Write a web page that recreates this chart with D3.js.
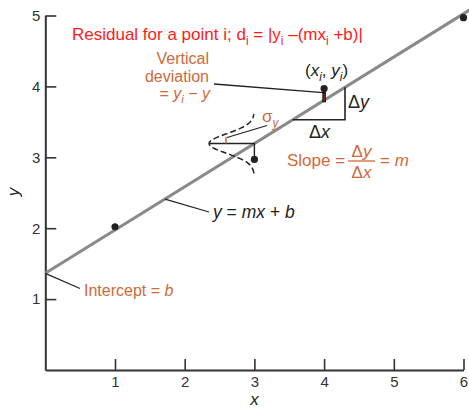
<!DOCTYPE html>
<html>
<head>
<meta charset="utf-8">
<script src="https://cdn.jsdelivr.net/npm/d3@7"></script>
<style>
  html, body { margin: 0; padding: 0; background: #fff; }
  svg { display: block; font-family: "Liberation Sans", Arial, Helvetica, sans-serif; }
</style>
</head>
<body>
<svg id="chart" width="469" height="408"></svg>
<script>
// Observed points (x_i, y_i)
const pointX = [1, 3, 4, 6];
const pointY = [2.02, 2.97, 3.97, 4.97];

// Fitted line y = m x + b
const slopeM = 0.61;
const interceptB = 1.364;

// Axis ticks
const xTicks = [1, 2, 3, 4, 5, 6];
const yTicks = [1, 2, 3, 4, 5];

// Slope triangle (x range along the line) and the sigma_y bell at x = 3
const triX = [3.55, 4.3];
const bellX = 3;
const bellSigma = 0.14;   // in y units
const bellHeight = 0.65;  // in x units

const orange = "#cf6a3a";
const red = "#ff1a1a";
const ink = "#222";

const svg = d3.select("#chart");
const x = d3.scaleLinear().domain([0, 6]).range([45.3, 463.5]);
const y = d3.scaleLinear().domain([0, 5]).range([370, 15.5]);
const fit = v => slopeM * v + interceptB;

// Axes with inward ticks
const xAxis = svg.append("g").attr("transform", `translate(0,${y(0)})`)
  .call(d3.axisBottom(x).tickValues(xTicks).tickFormat(d3.format("d"))
    .tickSizeInner(-11).tickSizeOuter(0).tickPadding(6));
const yAxis = svg.append("g").attr("transform", `translate(${x(0)},0)`)
  .call(d3.axisLeft(y).tickValues(yTicks).tickFormat(d3.format("d"))
    .tickSizeInner(-11).tickSizeOuter(0).tickPadding(5));
[xAxis, yAxis].forEach(g => {
  g.select(".domain").attr("stroke", "#333").attr("stroke-width", 2);
  g.selectAll(".tick line").attr("stroke", "#333").attr("stroke-width", 1.6);
  g.selectAll(".tick text").attr("fill", "#333").style("font-size", "15px")
    .style("font-family", '"Liberation Sans", Arial, sans-serif');
});

// Axis titles
svg.append("text").attr("x", x(3)).attr("y", 405).attr("text-anchor", "middle")
  .style("font-size", "17px").style("font-style", "italic").attr("fill", ink).text("x");
svg.append("text").attr("transform", "translate(19,192) rotate(-90)").attr("text-anchor", "middle")
  .style("font-size", "17px").style("font-style", "italic").attr("fill", ink).text("y");

// Fitted line, extended past the last tick to the page edge
svg.append("line")
  .attr("x1", x(0)).attr("y1", y(fit(0)))
  .attr("x2", x(6.2)).attr("y2", y(fit(6.2)))
  .attr("stroke", "#8a8a8a").attr("stroke-width", 3);

// Slope triangle
const [tx0, tx1] = triX;
svg.append("path")
  .attr("d", `M${x(tx0)},${y(fit(tx0))}H${x(tx1)}V${y(fit(tx1))}`)
  .attr("fill", "none").attr("stroke", ink).attr("stroke-width", 1.6);

// Bell curve for sigma_y, drawn sideways at x = 3
const yc = fit(bellX);
const bellPts = d3.range(-0.42, 0.4201, 0.01).map(dy =>
  [x(bellX - bellHeight * Math.exp(-(dy * dy) / (2 * bellSigma * bellSigma))), y(yc + dy)]);
svg.append("path").attr("d", d3.line()(bellPts))
  .attr("fill", "none").attr("stroke", ink).attr("stroke-width", 1.5).attr("stroke-dasharray", "6,3");

// Peak line across the bell and the drop to the point at x = 3
svg.append("path")
  .attr("d", `M${x(bellX - bellHeight)},${y(yc)}H${x(bellX)}V${y(pointY[1])}`)
  .attr("fill", "none").attr("stroke", ink).attr("stroke-width", 1.4);

// sigma marker and its leader
svg.append("line").attr("x1", 226).attr("y1", 137).attr("x2", 226).attr("y2", y(yc))
  .attr("stroke", orange).attr("stroke-width", 1.5);
svg.append("line").attr("x1", 227).attr("y1", 137.5).attr("x2", 267).attr("y2", 125.5)
  .attr("stroke", ink).attr("stroke-width", 1.2);

// Residual of the point at x = 4
const rx = x(pointX[2]);
svg.append("line").attr("x1", rx).attr("y1", y(pointY[2]) + 3).attr("x2", rx).attr("y2", y(fit(pointX[2])) + 2)
  .attr("stroke", "#111").attr("stroke-width", 3.6);
svg.append("line").attr("x1", rx).attr("y1", y(pointY[2]) + 5).attr("x2", rx).attr("y2", y(fit(pointX[2])) + 1)
  .attr("stroke", "#c0392b").attr("stroke-width", 1);

// Points
svg.selectAll("circle.pt").data(pointX).join("circle").attr("class", "pt")
  .attr("cx", (d, i) => x(d)).attr("cy", (d, i) => y(pointY[i])).attr("r", 3.6).attr("fill", "#222");

// Leader lines
const leader = (x1, y1, x2, y2) => svg.append("line")
  .attr("x1", x1).attr("y1", y1).attr("x2", x2).attr("y2", y2)
  .attr("stroke", ink).attr("stroke-width", 1.3);
leader(214, 84, rx - 1, y(pointY[2]) + 4);
leader(x(1.717), y(fit(1.717)), 209, 212);
leader(x(0), y(fit(0)), 80, 288.5);

// Rich text helper: parts are strings or {t, i (italic), sub, back (return from subscript)}
function rich(px, py, parts, opts) {
  const t = svg.append("text").attr("x", px).attr("y", py)
    .attr("fill", opts.fill).style("font-size", opts.size + "px")
    .attr("text-anchor", opts.anchor || "start");
  parts.forEach(p => {
    const s = typeof p === "string" ? { t: p } : p;
    const ts = t.append("tspan").text(s.t);
    if (s.i) ts.style("font-style", "italic");
    if (s.sub) {
      ts.attr("dy", opts.size * 0.28).style("font-size", (opts.size * 0.7) + "px");
    }
    if (s.back) ts.attr("dy", -opts.size * 0.28);
  });
  return t;
}

// Residual definition
rich(72, 40, [
  "Residual for a point i; d", { t: "i", sub: true }, { t: " = |y", back: true }, { t: "i", sub: true },
  { t: " \u2013(mx", back: true }, { t: "i", sub: true }, { t: " +b)|", back: true }
], { fill: red, size: 17 });

// Vertical deviation label
rich(209, 64, ["Vertical"], { fill: orange, size: 16, anchor: "end" });
rich(209, 82, ["deviation"], { fill: orange, size: 16, anchor: "end" });
rich(210, 99, ["= ", { t: "y", i: true }, { t: "i", i: true, sub: true }, { t: " \u2212 ", back: true }, { t: "y", i: true }],
  { fill: orange, size: 16, anchor: "end" });

// Point label (x_i, y_i)
rich(305, 76, ["(", { t: "x", i: true }, { t: "i", i: true, sub: true }, { t: ",  ", back: true }, { t: "y", i: true },
  { t: "i", i: true, sub: true }, { t: ")", back: true }], { fill: ink, size: 17 });

// Triangle labels
rich(348, 108, ["\u0394", { t: "y", i: true }], { fill: ink, size: 18 });
rich(309, 138, ["\u0394", { t: "x", i: true }], { fill: ink, size: 18 });

// sigma_y
rich(262, 122, ["\u03c3", { t: "y", i: true, sub: true }], { fill: orange, size: 17 });

// Slope = Δy/Δx = m
rich(287, 166, ["Slope ="], { fill: orange, size: 17 });
rich(361.5, 157, ["\u0394", { t: "y", i: true }], { fill: orange, size: 17, anchor: "middle" });
rich(361.5, 178, ["\u0394", { t: "x", i: true }], { fill: orange, size: 17, anchor: "middle" });
svg.append("line").attr("x1", 348).attr("x2", 375).attr("y1", 161).attr("y2", 161)
  .attr("stroke", orange).attr("stroke-width", 1.3);
rich(380, 166, ["= ", { t: "m", i: true }], { fill: orange, size: 17 });

// Line equation
rich(213, 218, [{ t: "y", i: true }, " = ", { t: "mx", i: true }, " + ", { t: "b", i: true }], { fill: ink, size: 17.5 });

// Intercept
rich(84, 296, ["Intercept = ", { t: "b", i: true }], { fill: orange, size: 16 });
</script>
</body>
</html>
